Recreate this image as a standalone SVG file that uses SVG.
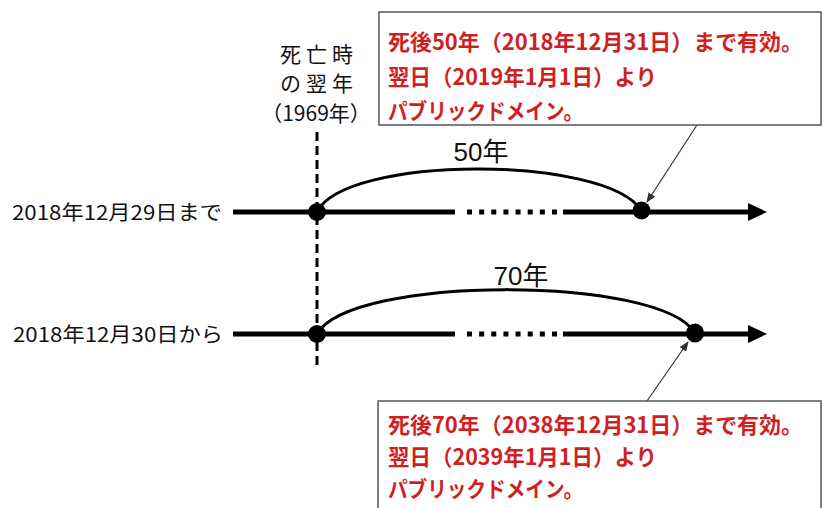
<svg xmlns="http://www.w3.org/2000/svg" width="823" height="508" viewBox="0 0 823 508">
<style>
.lbl{font-family:"Noto Sans CJK JP","Liberation Sans",sans-serif;font-size:20px;fill:#111}
.top{font-family:"Noto Sans CJK JP","Liberation Sans",sans-serif;font-size:21px;fill:#111}
.yr{font-family:"Liberation Sans","Noto Sans CJK JP",sans-serif;font-size:26px;fill:#111}
.red{font-family:"Noto Sans CJK JP","Liberation Sans",sans-serif;font-size:22px;font-weight:bold;fill:#d01f1f}
.box{fill:#fff;stroke:#555;stroke-width:1.5}
.axis{stroke:#000;stroke-width:5;fill:none}
.dots{stroke:#000;stroke-width:5;stroke-dasharray:5 7.14;fill:none}
.arc{stroke:#000;stroke-width:3;fill:none}
.lead{stroke:#333;stroke-width:1.2;fill:none;marker-end:url(#sm)}
</style>
<defs>
<marker id="big" markerUnits="userSpaceOnUse" markerWidth="20" markerHeight="18" refX="0" refY="9" orient="auto"><path d="M0,0 L19,9 L0,18 Z" fill="#000"/></marker>
<marker id="sm" markerUnits="userSpaceOnUse" markerWidth="10" markerHeight="8" refX="9" refY="4" orient="auto"><path d="M0,0 L10,4 L0,8 Z" fill="#333"/></marker>
</defs>
<rect width="823" height="508" fill="#fff"/>
<g id="connectors">
<line x1="317" y1="132" x2="317" y2="370" stroke="#000" stroke-width="3" stroke-dasharray="9 5"/>
<line class="axis" x1="233" y1="212" x2="455" y2="212"/>
<line class="dots" x1="467" y1="212" x2="557" y2="212"/>
<line class="axis" x1="563" y1="212" x2="748" y2="212" marker-end="url(#big)"/>
<path class="arc" d="M317,212 C345,155 605,155 641,210"/>
<line class="axis" x1="233" y1="334" x2="455" y2="334"/>
<line class="dots" x1="467" y1="334" x2="557" y2="334"/>
<line class="axis" x1="563" y1="334" x2="748" y2="334" marker-end="url(#big)"/>
<path class="arc" d="M317,334 C350,275 660,275 695,333"/>
<line class="lead" x1="697" y1="125" x2="647" y2="202"/>
<line class="lead" x1="647" y1="401" x2="688" y2="342"/>
</g>
<g id="dot-start-1"><circle cx="317" cy="212" r="9" fill="#000"/></g>
<g id="dot-end-1"><circle cx="641.5" cy="210.5" r="9" fill="#000"/></g>
<g id="dot-start-2"><circle cx="317" cy="334" r="9" fill="#000"/></g>
<g id="dot-end-2"><ellipse cx="695" cy="333" rx="9" ry="9.5" fill="#000"/></g>
<g id="label-death">
<text class="top" x="319" y="62" text-anchor="middle" letter-spacing="5">死亡時</text>
<text class="top" x="319" y="91" text-anchor="middle" letter-spacing="5">の翌年</text>
<text class="top" x="316" y="121" text-anchor="middle">（1969年）</text>
</g>
<g id="label-row1"><text class="lbl" x="12" y="220" textLength="210" lengthAdjust="spacingAndGlyphs">2018年12月29日まで</text></g>
<g id="label-row2"><text class="lbl" x="13" y="342" textLength="210" lengthAdjust="spacingAndGlyphs">2018年12月30日から</text></g>
<g id="label-50"><text class="yr" x="481" y="161" text-anchor="middle">50年</text></g>
<g id="label-70"><text class="yr" x="521" y="285" text-anchor="middle">70年</text></g>
<g id="box-50">
<rect class="box" x="379" y="12" width="442" height="113"/>
<text class="red" x="388" y="50" textLength="415" lengthAdjust="spacingAndGlyphs">死後50年（2018年12月31日）まで有効。</text>
<text class="red" x="388" y="85" textLength="269" lengthAdjust="spacingAndGlyphs">翌日（2019年1月1日）より</text>
<text class="red" x="388" y="119" textLength="195" lengthAdjust="spacingAndGlyphs">パブリックドメイン。</text>
</g>
<g id="box-70">
<rect class="box" x="378" y="401" width="443" height="120"/>
<text class="red" x="388" y="433" textLength="415" lengthAdjust="spacingAndGlyphs">死後70年（2038年12月31日）まで有効。</text>
<text class="red" x="388" y="465" textLength="269" lengthAdjust="spacingAndGlyphs">翌日（2039年1月1日）より</text>
<text class="red" x="388" y="497" textLength="195" lengthAdjust="spacingAndGlyphs">パブリックドメイン。</text>
</g>
</svg>
